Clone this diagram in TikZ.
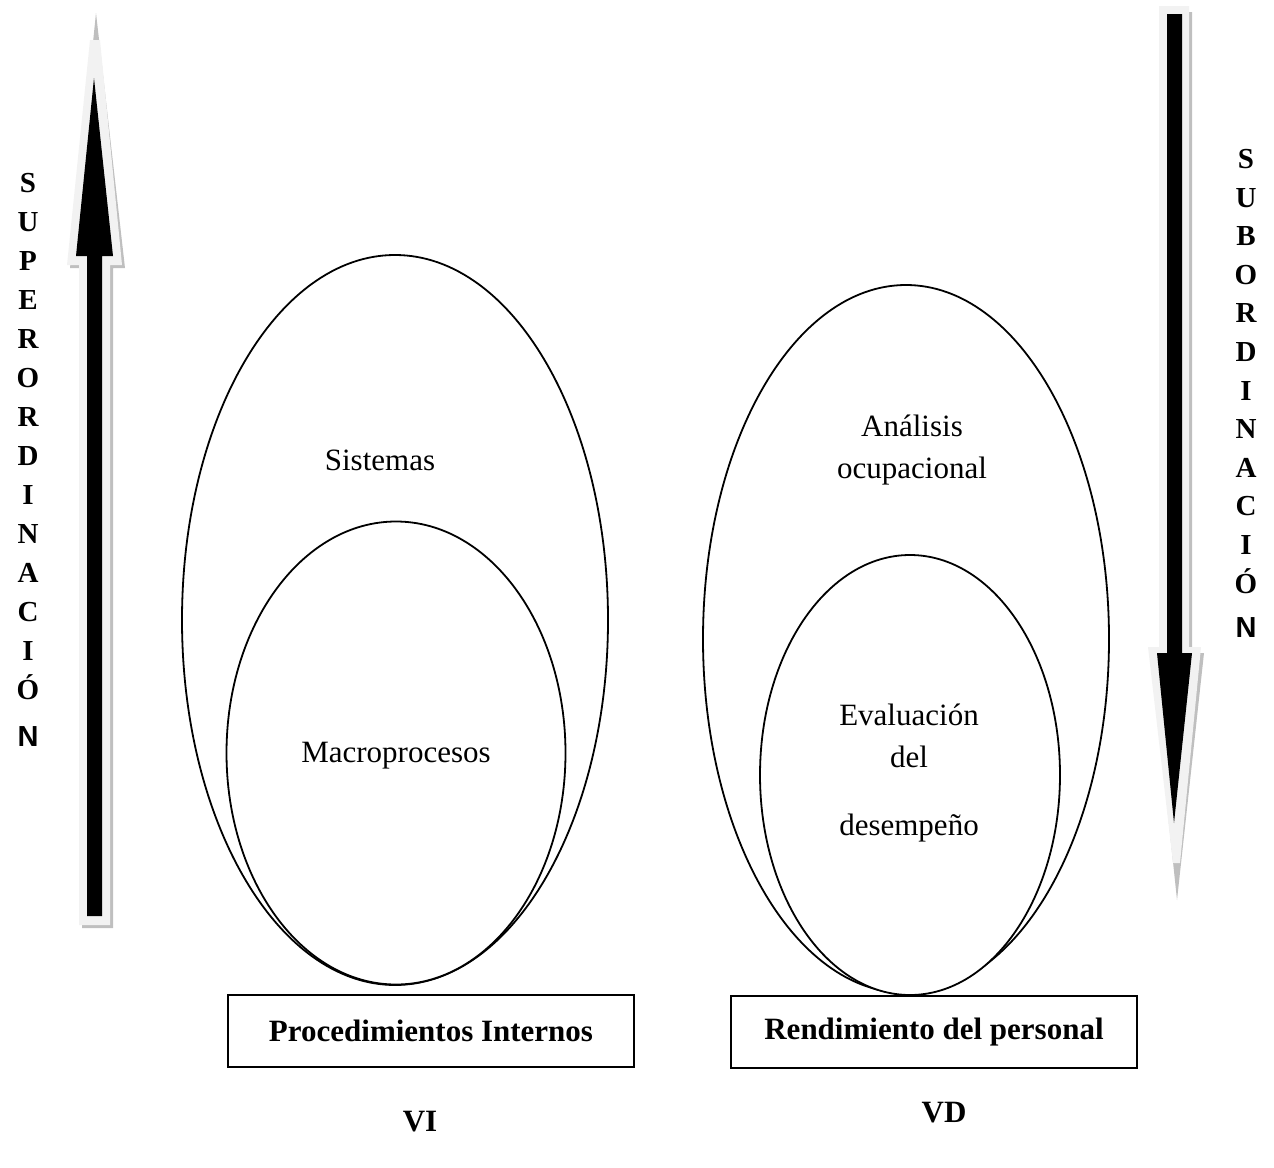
\documentclass[tikz,border=0pt]{standalone}
\usepackage{fontspec}
\setmainfont{Liberation Serif}
\newfontfamily\sansfnt{Liberation Sans}
\usetikzlibrary{positioning,shapes.geometric,calc}

\begin{document}
\begin{tikzpicture}[x=1pt,y=-1pt, font=\fontsize{31}{42}\selectfont,
  ell/.style={draw,ellipse,fill=white,inner sep=0pt,line width=1.8pt},
  var/.style={draw,line width=1.8pt,minimum width=406pt,minimum height=72pt,font=\bfseries\fontsize{31}{38}\selectfont},
  txt/.style={align=center},
  vtxt/.style={align=center,inner sep=0pt,font=\bfseries\fontsize{29}{39}\selectfont},
  shade/.style={fill=black!25}, rim/.style={fill=black!5}]
  \useasboundingbox (0,0) rectangle (1274,1167);
  % left arrow (upwards)
  \fill[shade] (82,928)--(82,268)--(70,268)--(96,13)--(125,268)--(113,268)--(113,928)--cycle;
  \fill[rim] (79,925)--(79,265)--(67,265)--(90,40)--(100,40)--(122,265)--(110,265)--(110,925)--cycle;
  \fill (87,916)--(87,256)--(76,256)--(94,78)--(113,256)--(102,256)--(102,916)--cycle;
  % right arrow (downwards)
  \fill[shade] (1162,12)--(1192,12)--(1192,653)--(1204,653)--(1177,900)--(1151,653)--(1162,653)--cycle;
  \fill[rim] (1159,6)--(1189,6)--(1189,647)--(1201,647)--(1180,863)--(1173,863)--(1148,647)--(1159,647)--cycle;
  \fill (1167,14)--(1182,14)--(1182,653)--(1192,653)--(1174,823)--(1157,653)--(1167,653)--cycle;
  % side labels
  \node[vtxt,anchor=north] (sup) at (28,173) {S\\U\\P\\E\\R\\O\\R\\D\\I\\N\\A\\C\\I\\Ó\\[8pt]{\sansfnt N}};
  \node[vtxt,anchor=north,font=\bfseries\fontsize{29}{38.6}\selectfont] (sub) at (1246,149) {S\\U\\B\\O\\R\\D\\I\\N\\A\\C\\I\\Ó\\[6pt]{\sansfnt N}};
  % ellipses
  \node[ell,minimum width=426pt,minimum height=730pt] (sis) at (395,620) {};
  \node[ell,minimum width=339pt,minimum height=463pt] (mac) at (396,753) {};
  \node[ell,minimum width=406pt,minimum height=708pt] (ana) at (906,639) {};
  \node[ell,minimum width=300pt,minimum height=440pt] (eva) at (910,775) {};
  \node[txt] (sisT) at (380,460) {Sistemas};
  \node[txt] (macT) at (396,756) {Macroprocesos};
  \node[txt] (anaT) at (912,450) {Análisis\\ocupacional};
  \node[txt,anchor=north] (evaT) at (909,700) {Evaluación\\del\\[26pt]desempeño};
  % variables
  \node[var] (vi) at (431,1031) {Procedimientos Internos};
  \node[var] (vd) at (934,1032) {Rendimiento del personal};
  \node[font=\bfseries\fontsize{31}{38}\selectfont] (viL) at (420,1122) {VI};
  \node[font=\bfseries\fontsize{31}{38}\selectfont] (vdL) at (944,1113) {VD};
\end{tikzpicture}
\end{document}
